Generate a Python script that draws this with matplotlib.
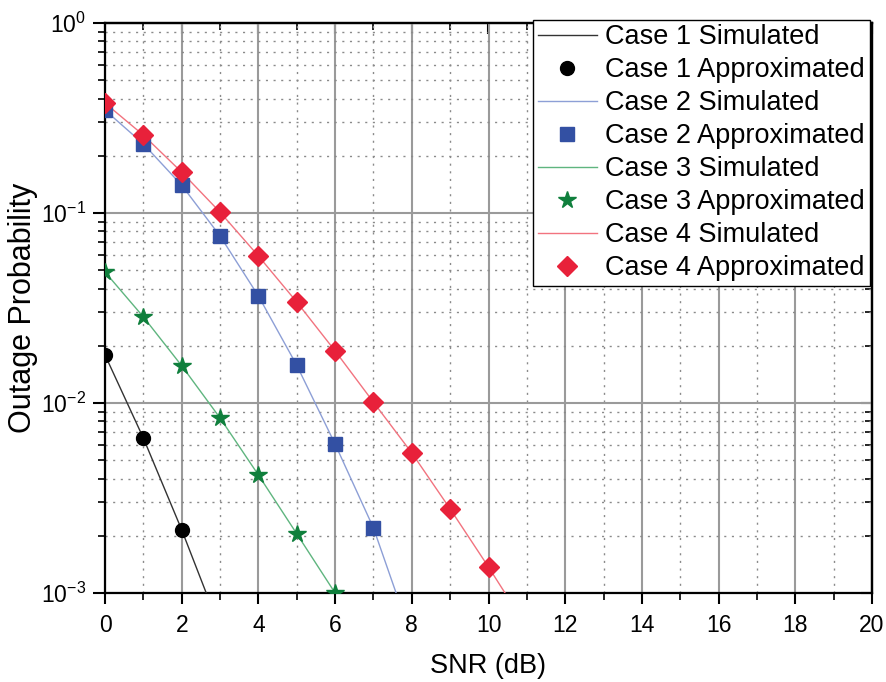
import numpy as np
import matplotlib
matplotlib.use("Agg")
import matplotlib.pyplot as plt
from matplotlib.ticker import LogLocator, FixedLocator, FuncFormatter, NullFormatter

plt.rcParams['font.family'] = ['Liberation Sans', 'DejaVu Sans']
plt.rcParams['mathtext.fontset'] = 'custom'
plt.rcParams['mathtext.rm'] = 'Liberation Sans'
plt.rcParams['mathtext.it'] = 'Liberation Sans'
plt.rcParams['mathtext.default'] = 'regular'

# SNR grid (dB)
snr_sim = [0, 1, 2, 3, 4, 5, 6, 7, 8, 9, 10, 11, 12]
snr_1 = [0, 1, 2]
snr_2 = [0, 1, 2, 3, 4, 5, 6, 7]
snr_3 = [0, 1, 2, 3, 4, 5, 6]
snr_4 = [0, 1, 2, 3, 4, 5, 6, 7, 8, 9, 10]

# Simulated outage probability
sim_1 = [0.0179, 0.00654, 0.00215, 0.00065, 1.8e-4]
sim_2 = [0.348, 0.231, 0.140, 0.0757, 0.0366, 0.0158, 0.00608, 0.0022, 5.8e-4]
sim_3 = [0.0489, 0.0284, 0.0157, 0.00834, 0.00418, 0.00205, 0.0010, 4.5e-4]
sim_4 = [0.379, 0.257, 0.164, 0.101, 0.0594, 0.034, 0.0188, 0.0101,
         0.00546, 0.00277, 0.00137, 6.6e-4]

# Approximated outage probability
app_1 = [0.0179, 0.00654, 0.00215]
app_2 = [0.348, 0.231, 0.140, 0.0757, 0.0366, 0.0158, 0.00608, 0.0022]
app_3 = [0.0489, 0.0284, 0.0157, 0.00834, 0.00418, 0.00205, 0.0010]
app_4 = [0.379, 0.257, 0.164, 0.101, 0.0594, 0.034, 0.0188, 0.0101,
         0.00546, 0.00277, 0.00137]

fig = plt.figure(figsize=(8.86, 6.82), dpi=100)
ax = fig.add_axes([105 / 886, 1 - 593 / 682, (872 - 105) / 886, (593 - 23) / 682])
ax.set_yscale('log')

lw = 1.0
ax.plot(snr_sim[:len(sim_1)], sim_1, color='#333333', lw=lw, label='Case 1 Simulated', zorder=3)
ax.plot(snr_1, app_1, 'o', color='black', ms=10, ls='none', label='Case 1 Approximated', zorder=4)
ax.plot(snr_sim[:len(sim_2)], sim_2, color='#8d9fd6', lw=lw, label='Case 2 Simulated', zorder=3)
ax.plot(snr_2, app_2, 's', color='#3350a3', ms=9.5, ls='none', label='Case 2 Approximated', zorder=4)
ax.plot(snr_sim[:len(sim_3)], sim_3, color='#5fb57f', lw=lw, label='Case 3 Simulated', zorder=3)
ax.plot(snr_3, app_3, '*', color='#0f7f3c', ms=13, ls='none', label='Case 3 Approximated', zorder=4)
ax.plot(snr_sim[:len(sim_4)], sim_4, color='#f2737f', lw=lw, label='Case 4 Simulated', zorder=3)
ax.plot(snr_4, app_4, 'D', color='#e8213a', ms=10, ls='none', label='Case 4 Approximated', zorder=4)

ax.set_xlim(0, 20)
ax.set_ylim(1e-3, 1)

ax.xaxis.set_major_locator(FixedLocator(np.arange(0, 21, 2)))
ax.xaxis.set_minor_locator(FixedLocator(np.arange(1, 20, 2)))
ax.yaxis.set_major_locator(LogLocator(base=10, numticks=10))
ax.yaxis.set_minor_locator(LogLocator(base=10, subs=np.arange(2, 10), numticks=20))
ax.yaxis.set_minor_formatter(NullFormatter())
ax.yaxis.set_major_formatter(FuncFormatter(lambda v, p: r'$10^{%d}$' % int(round(np.log10(v)))))

ax.grid(True, which='major', color='#9a9a9a', lw=1.5, ls='-', zorder=0)
ax.grid(True, which='minor', color='#8a8a8a', lw=1.0, ls=(0, (1.5, 4)), zorder=0)
ax.set_axisbelow(True)

ax.tick_params(axis='x', which='major', direction='out', length=8, width=1.5, labelsize=16.5, pad=7)
ax.tick_params(axis='x', which='minor', direction='out', length=5, width=1.2)
ax.tick_params(axis='y', which='major', direction='out', length=8.6, width=1.5, labelsize=16.5, pad=5)
ax.tick_params(axis='y', which='minor', direction='out', length=5, width=1.2)
for s in ax.spines.values():
    s.set_linewidth(1.6)
    s.set_color('black')

# mirrored ticks on the top and right sides, pointing inward
top = ax.secondary_xaxis('top')
top.xaxis.set_major_locator(FixedLocator(np.arange(0, 21, 2)))
top.xaxis.set_minor_locator(FixedLocator(np.arange(1, 20, 2)))
top.tick_params(which='major', direction='in', length=8, width=1.5, labeltop=False)
top.tick_params(which='minor', direction='in', length=5, width=1.2)
top.spines['top'].set_linewidth(1.6)
right = ax.secondary_yaxis('right')
right.yaxis.set_major_locator(LogLocator(base=10, numticks=10))
right.yaxis.set_minor_locator(LogLocator(base=10, subs=np.arange(2, 10), numticks=20))
right.tick_params(which='major', direction='in', length=8, width=1.5, labelright=False)
right.tick_params(which='minor', direction='in', length=5, width=1.2, labelright=False)
right.spines['right'].set_linewidth(1.6)

ax.set_xlabel('SNR (dB)', fontsize=19.5)
ax.set_ylabel('Outage Probability', fontsize=22)
ax.xaxis.set_label_coords(0.5, -0.105)
ax.yaxis.set_label_coords(-0.0874, 0.5)

leg = ax.legend(loc='upper right', bbox_to_anchor=(0.997, 1.006), fontsize=19.5,
                frameon=True, fancybox=False, edgecolor='black', framealpha=1,
                borderpad=0.17, labelspacing=0.26, handlelength=2.2,
                handletextpad=0.3, borderaxespad=0.0)
leg.get_frame().set_linewidth(1.0)
leg.set_zorder(10)

fig.savefig('out.png', dpi=100)
